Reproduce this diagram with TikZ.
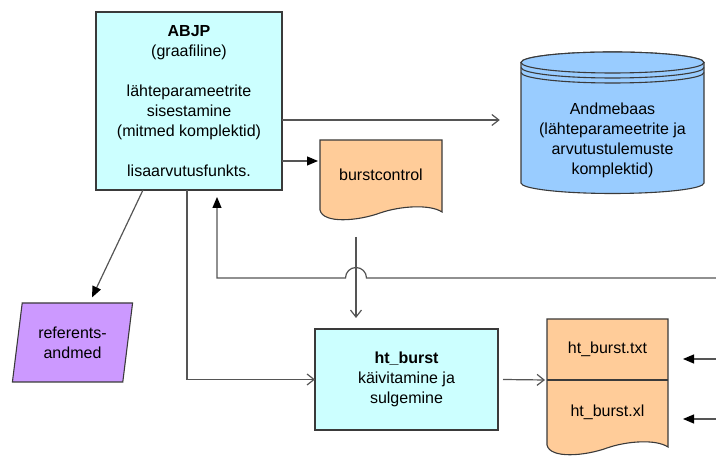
\documentclass[tikz,border=0pt]{standalone}
\usepackage{fontspec}
\setmainfont{Liberation Sans}
\usepackage{tikz}
\usetikzlibrary{arrows.meta,positioning,shapes.geometric,calc,backgrounds}
\definecolor{procfill}{HTML}{CCFFFF}
\definecolor{docfill}{HTML}{FFCC99}
\definecolor{dbfill}{HTML}{99CCFF}
\definecolor{reffill}{HTML}{CC99FF}
\definecolor{edge}{HTML}{3A3A3A}
\definecolor{wire}{HTML}{555555}
\tikzset{
  procbox/.style={
    rectangle, draw=edge, fill=#1, line width=1.1pt,
    align=center, inner sep=2pt, outer sep=0pt
  },
  procbox/.default=procfill,
  doctext/.style={
    rectangle, minimum width=122pt, align=center, inner sep=2pt, outer sep=0pt
  },
  docshape/.style={draw=edge, fill=docfill, line width=1.1pt},
  dbshape/.style={draw=edge, fill=dbfill, line width=1.1pt},
  openarrow/.style={
    -{Straight Barb[length=7pt,width=11pt]}, line width=1.2pt, color=wire
  },
  fillarrow/.style={
    -{Triangle[length=11pt,width=9pt,color=black]}, line width=1.2pt, color=wire
  },
}
% wavy document outline around a top node #1 and a bottom node #2
\newcommand{\wavydoc}[2]{%
  \filldraw[docshape] (#1.north west) -- (#2.south west)
    .. controls +(3,-14) and +(-22,-8) .. ($(#2.south west)+(60,-3)$)
    .. controls +(20,7) and +(-12,8) .. ($(#2.south east)+(0,-2)$)
    -- (#1.north east) -- cycle;}

\begin{document}
\begin{tikzpicture}[x=1pt, y=1pt, font=\fontsize{16}{20}\selectfont]
  \useasboundingbox (0,0) rectangle (716,457);

  % Main program
  \node[procbox, minimum width=186pt, minimum height=178pt] (abjp) at (189,356)
    {\textbf{ABJP}\\(graafiline)\\[20pt]lähteparameetrite\\sisestamine\\(mitmed komplektid)\\[20pt]lisaarvutusfunkts.};

  % Database
  \node[align=center, minimum width=183pt, inner sep=0pt] (andmebaas) at (612.5,317)
    {Andmebaas\\(lähteparameetrite ja\\arvutustulemuste\\komplektid)};

  % Control file
  \node[doctext, minimum height=70pt] (burstcontrol) at (381,282) {burstcontrol};

  % Reference data
  \node[trapezium, trapezium left angle=78.5, trapezium right angle=101.5,
        trapezium stretches=true, draw=edge, fill=reffill, line width=1.1pt,
        minimum width=121pt, minimum height=79pt, align=center, inner sep=1pt]
        (referents) at (72.5,114.5) {referents-\\andmed};

  % Runner
  \node[procbox, minimum width=183pt, minimum height=101pt] (htburst) at (406.5,77.5)
    {\textbf{ht\_burst}\\käivitamine ja\\sulgemine};

  % Output files
  \node[doctext, minimum width=121pt, minimum height=61pt] (htxt) at (607.5,107.5) {ht\_burst.txt};
  \node[doctext, minimum width=121pt, minimum height=65pt, below=0pt of htxt] (hxl) {ht\_burst.xl};

  \coordinate (fbin) at (716,179);
  \coordinate (intxt) at (716,98);
  \coordinate (inxl) at (716,38);
  \coordinate (hop) at ($(burstcontrol.south)+(-25,-68)$);

  \begin{scope}[on background layer]
    \filldraw[dbshape] ($(andmebaas.center)+(-91.5,77.5)$) -- ++(0,-120.5)
      arc[start angle=180, end angle=360, x radius=91.5, y radius=10.5]
      -- ++(0,120.5)
      arc[start angle=0, end angle=180, x radius=91.5, y radius=10.5] -- cycle;
    \draw[dbshape] ($(andmebaas.center)+(0,77.5)$) ellipse[x radius=91.5, y radius=10.5];
    \draw[edge, line width=1.1pt] ($(andmebaas.center)+(-91.5,72.5)$)
      arc[start angle=180, end angle=360, x radius=91.5, y radius=10.5];
    \draw[edge, line width=1.1pt] ($(andmebaas.center)+(-91.5,67.5)$)
      arc[start angle=180, end angle=360, x radius=91.5, y radius=10.5];
    \wavydoc{burstcontrol}{burstcontrol}
    \wavydoc{htxt}{hxl}
    \draw[edge, line width=1.1pt] (htxt.south west) -- (htxt.south east);
  \end{scope}

  % Arrows
  \draw[openarrow] ($(abjp.east)+(0,-19)$) -- ($(andmebaas.west)+(-21,20)$);
  \draw[fillarrow] ($(abjp.east)+(0,-60)$) -- ($(burstcontrol.west)+(-2,14)$);
  \draw[openarrow] ($(burstcontrol.south)+(-25,-27)$) -- ($(htburst.north)+(-50.5,11)$);
  \draw[fillarrow] (fbin) -- ($(hop)+(10.5,0)$) arc[start angle=0, end angle=180, radius=10.5]
    -- ($(abjp.south)+(28,-88)$) -- ($(abjp.south)+(28,-7)$);
  \draw[openarrow] ($(abjp.south)+(-2,0)$) |- (htburst.west);
  \draw[fillarrow] ($(abjp.south)+(-46,0)$) -- ($(referents.north)+(19.5,5)$);
  \draw[openarrow] ($(htburst.east)+(5,0)$) -- ($(htxt.south west)+(-2,0)$);
  \draw[fillarrow] (intxt) -- ($(htxt.east)+(15,-9.5)$);
  \draw[fillarrow] (inxl) -- ($(hxl.east)+(15,-6.5)$);
\end{tikzpicture}
\end{document}
